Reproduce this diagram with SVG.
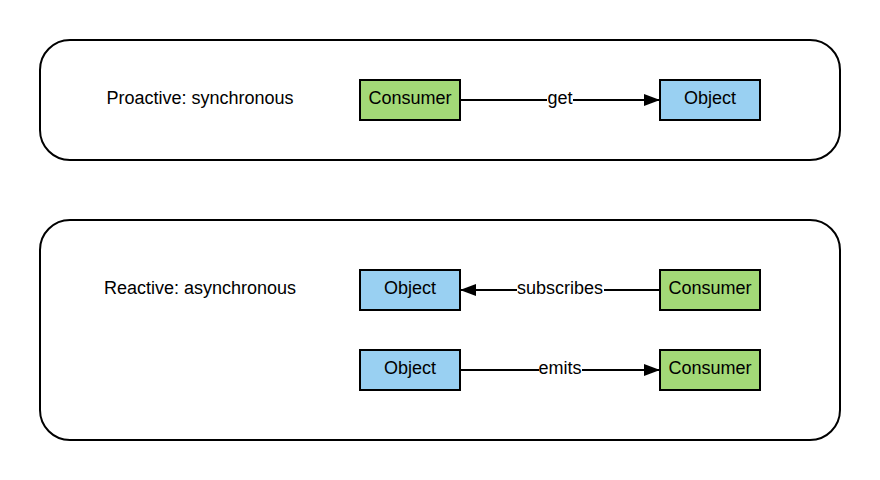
<svg xmlns="http://www.w3.org/2000/svg" width="880" height="480" viewBox="0 0 880 480">
<style>
text{font-family:"Liberation Sans",Arial,sans-serif;font-size:18px;fill:#000;text-anchor:middle;dominant-baseline:central}
.c{fill:#fff;stroke:#000;stroke-width:2}
.g{fill:#a3d977;stroke:#000;stroke-width:2}
.b{fill:#99d0f2;stroke:#000;stroke-width:2}
.e{fill:none;stroke:#000;stroke-width:2}
.lb{fill:#fff}
</style>
<defs>
<marker id="ah" markerUnits="userSpaceOnUse" markerWidth="16" markerHeight="14" refX="16" refY="7" orient="auto">
<path d="M0,1 L16,7 L0,13 Z" fill="#000"/>
</marker>
</defs>
<g id="proactive">
<rect class="c" x="40" y="40" width="800" height="120" rx="30" ry="30"/>
<text x="200" y="98">Proactive: synchronous</text>
</g>
<g id="reactive">
<rect class="c" x="40" y="220" width="800" height="220" rx="30" ry="30"/>
<text x="200" y="288">Reactive: asynchronous</text>
</g>
<g id="connectors">
<line class="e" x1="460" y1="100" x2="660" y2="100" marker-end="url(#ah)"/>
<rect class="lb" x="547" y="90" width="26" height="20"/>
<text x="560" y="98">get</text>
<line class="e" x1="660" y1="290" x2="460" y2="290" marker-end="url(#ah)"/>
<rect class="lb" x="517" y="280" width="87" height="20"/>
<text x="560" y="288">subscribes</text>
<line class="e" x1="460" y1="370" x2="660" y2="370" marker-end="url(#ah)"/>
<rect class="lb" x="539" y="360" width="43" height="20"/>
<text x="560" y="368">emits</text>
</g>
<g id="n-consumer1"><rect class="g" x="360" y="80" width="100" height="40"/><text x="410" y="98">Consumer</text></g>
<g id="n-object1"><rect class="b" x="660" y="80" width="100" height="40"/><text x="710" y="98">Object</text></g>
<g id="n-object2"><rect class="b" x="360" y="270" width="100" height="40"/><text x="410" y="288">Object</text></g>
<g id="n-consumer2"><rect class="g" x="660" y="270" width="100" height="40"/><text x="710" y="288">Consumer</text></g>
<g id="n-object3"><rect class="b" x="360" y="350" width="100" height="40"/><text x="410" y="368">Object</text></g>
<g id="n-consumer3"><rect class="g" x="660" y="350" width="100" height="40"/><text x="710" y="368">Consumer</text></g>
</svg>
